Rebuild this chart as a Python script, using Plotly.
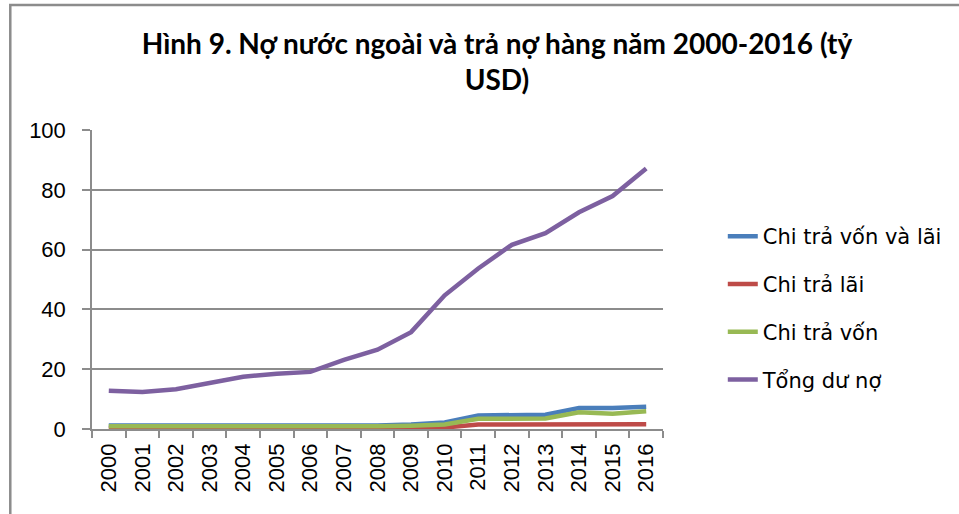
import plotly.graph_objects as go

years = [str(y) for y in range(2000, 2017)]
chi_tra_von_va_lai = [1.2, 1.2, 1.2, 0.9, 0.9, 0.9, 0.9, 1.1, 1.2, 1.5, 2.2, 4.5, 4.8, 4.8, 7.0, 7.0, 7.4]
chi_tra_lai = [0.3, 0.3, 0.3, 0.3, 0.3, 0.3, 0.3, 0.35, 0.4, 0.45, 0.5, 1.5, 1.5, 1.5, 1.6, 1.6, 1.6]
chi_tra_von = [0.9, 0.9, 0.9, 0.6, 0.6, 0.6, 0.6, 0.8, 0.9, 1.1, 1.5, 3.4, 3.5, 3.5, 5.6, 5.1, 5.9]
tong_du_no = [12.8, 12.4, 13.3, 15.3, 17.5, 18.5, 19.1, 23.1, 26.5, 32.4, 44.7, 53.7, 61.6, 65.5, 72.5, 77.9, 87.1]

series_names = ["Chi trả vốn và lãi", "Chi trả lãi", "Chi trả vốn", "Tổng dư nợ"]
series_values = [chi_tra_von_va_lai, chi_tra_lai, chi_tra_von, tong_du_no]
series_colors = ["#4A7EBB", "#BE4B48", "#98B954", "#7D60A0"]

title_text = "Hình 9. Nợ nước ngoài và trả nợ hàng năm 2000-2016 (tỷ<br>USD)"

W, H = 959, 514
ML, MR, MT, MB = 92, 294, 130, 85
PW, PH = W - ML - MR, H - MT - MB

fig = go.Figure()
for i, (name, vals, col) in enumerate(zip(series_names, series_values, series_colors)):
    fig.add_trace(go.Scatter(
        x=years, y=vals, name=name, mode="lines",
        line=dict(color=col, width=4.5),
        legendgroup=f"g{i}",
    ))

def px_x(p):
    return (p - ML) / PW

def px_y(p):
    return (H - MB - p) / PH

grid_col = "#8C8C8C"
fig.update_layout(
    width=W, height=H,
    margin=dict(l=ML, r=MR, t=MT, b=MB),
    paper_bgcolor="white", plot_bgcolor="white",
    title=dict(text=title_text, x=497 / W, xanchor="center", xref="container",
               y=1 - 54 / H, yanchor="top", yref="container",
               font=dict(family="Lato", size=28, color="#000000", weight="bold")),
    xaxis=dict(type="category", range=[-0.5, 16.5], tickson="boundaries",
               showline=True, linecolor=grid_col, linewidth=1.5,
               ticks="outside", ticklen=7, tickcolor=grid_col, tickwidth=1.5,
               tickangle=-90, showgrid=False,
               tickfont=dict(family="Liberation Sans", size=22, color="#000000"),
               ticklabelstandoff=4),
    yaxis=dict(range=[0, 100], tickvals=[0, 20, 40, 60, 80, 100],
               showline=True, linecolor=grid_col, linewidth=1.5,
               ticks="outside", ticklen=8, tickcolor=grid_col, tickwidth=1.5,
               showgrid=True, gridcolor=grid_col, gridwidth=1.5, zeroline=False,
               tickfont=dict(family="Liberation Sans", size=22, color="#000000"),
               ticklabelstandoff=12),
    legend=dict(x=px_x(725), xanchor="left", y=px_y(216), yanchor="top",
                font=dict(family="DejaVu Sans", size=21, color="#000000"),
                tracegroupgap=17.5, bgcolor="rgba(0,0,0,0)"),
    shapes=[dict(type="rect", xref="paper", yref="paper",
                 x0=px_x(10), x1=px_x(W + 20), y0=px_y(H + 20), y1=px_y(5),
                 line=dict(color="#8C8C8C", width=2.5), fillcolor="rgba(0,0,0,0)",
                 layer="below")],
)

fig.write_html("out.html", config={"displayModeBar": False},
               post_script="document.body.style.margin='0';")
